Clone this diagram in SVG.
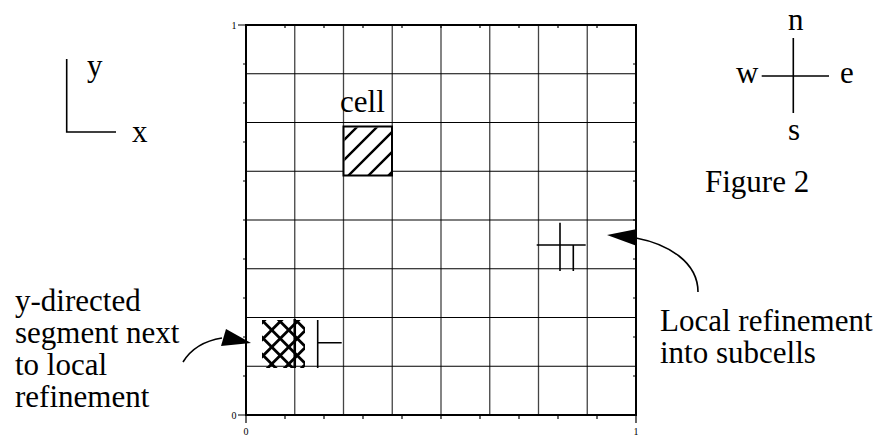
<svg xmlns="http://www.w3.org/2000/svg" width="879" height="435" viewBox="0 0 879 435">
<style>
.t{font-family:"Liberation Serif","Times New Roman",serif;font-size:31px;fill:#000}
.n{font-family:"Liberation Serif","Times New Roman",serif;font-size:10px;fill:#000}
.h{stroke:#000;stroke-width:1.2;fill:none}
.v{stroke:#444;stroke-width:1.3;fill:none}
.b{stroke:#000;stroke-width:2;fill:none}
.k{stroke:#000;stroke-width:1.2;fill:none}
.ln{stroke:#000;stroke-width:1.6;fill:none}
.hat{stroke:#000;stroke-width:2.4;fill:none}
.xh{stroke:#000;stroke-width:2.8;fill:none;stroke-linecap:round}
.con{stroke:#000;stroke-width:1.6;fill:none}
.head{fill:#000;stroke:none}
</style>
<defs>
<clipPath id="cellClip"><rect x="344.5" y="127.5" width="47" height="47.5"/></clipPath>
<clipPath id="xClip"><rect x="262" y="320" width="43" height="48"/></clipPath>
</defs>
<rect width="879" height="435" fill="#fff"/>

<g id="grid">
<path class="v" d="M294.75 25V415M343.5 25V415M392.25 25V415M441 25V415M489.75 25V415M538.5 25V415M587.25 25V415"/>
<path class="h" d="M246 73.75H636M246 122.5H636M246 171.25H636M246 220H636M246 268.75H636M246 317.5H636M246 366.25H636"/>
<rect class="b" x="246" y="25" width="390" height="390"/>
<path class="k" d="M285 25v3M324 25v3M363 25v3M402 25v3M441 25v3M480 25v3M519 25v3M558 25v3M597 25v3"/>
<path class="k" d="M285 415v4M324 415v4M363 415v4M402 415v4M441 415v4M480 415v4M519 415v4M558 415v4M597 415v4M246 415v8M636 415v8"/>
<path class="k" d="M246 64h-3M246 103h-3M246 142h-3M246 181h-3M246 220h-3M246 259h-3M246 298h-3M246 337h-3M246 376h-3M246 25h-8M246 415h-8"/>
<path class="k" d="M636 64h-3M636 103h-3M636 142h-3M636 181h-3M636 220h-3M636 259h-3M636 298h-3M636 337h-3M636 376h-3"/>
<text class="n" x="234" y="29" text-anchor="middle">1</text>
<text class="n" x="234" y="419" text-anchor="middle">0</text>
<text class="n" x="246" y="434.5" text-anchor="middle">0</text>
<text class="n" x="636" y="434.5" text-anchor="middle">1</text>
</g>

<g id="axes">
<path class="ln" d="M66.7 59V132H116"/>
<text class="t" x="87" y="76">y</text>
<text class="t" x="132" y="142">x</text>
</g>

<g id="compass">
<path class="ln" d="M793.3 38V113M761.7 76H829"/>
<text class="t" x="788" y="30">n</text>
<text class="t" x="736" y="83">w</text>
<text class="t" x="840" y="83">e</text>
<text class="t" x="788" y="140">s</text>
</g>

<g id="figure-label">
<text class="t" x="705" y="192">Figure 2</text>
</g>

<g id="cell">
<rect x="343.5" y="126.5" width="48.5" height="49" fill="#fff" stroke="#000" stroke-width="2"/>
<g clip-path="url(#cellClip)">
<path class="hat" d="M330 154L360 124M330 174L380 124M330 194L400 124M350 194L400 144M370 194L400 164"/>
</g>
<text class="t" x="340" y="112">cell</text>
</g>

<g id="y-segment">
<g clip-path="url(#xClip)">
<path class="xh" d="M250 317.7L320 247.7M250 334.7L320 264.7M250 351.7L320 281.7M250 368.7L320 298.7M250 385.7L320 315.7M250 402.7L320 332.7M250 419.7L320 349.7M250 436.7L320 366.7"/>
<path class="xh" d="M250 359.3L320 429.3M250 342.3L320 412.3M250 325.3L320 395.3M250 308.3L320 378.3M250 291.3L320 361.3M250 274.3L320 344.3M250 257.3L320 327.3"/>
</g>
<path stroke="#000" stroke-width="2.6" d="M294.75 319V368"/>
<path class="ln" d="M317.7 320V368M317.7 342.7H341.7"/>
</g>

<g id="subcells">
<path class="ln" d="M536.7 245H585.7M560 222.7V271M573.3 245V271"/>
</g>

<g id="label-left">
<text class="t" x="15" y="311">y-directed</text>
<text class="t" x="15" y="343">segment next</text>
<text class="t" x="15" y="375">to local</text>
<text class="t" x="15" y="407">refinement</text>
</g>

<g id="label-right">
<text class="t" x="660" y="331">Local refinement</text>
<text class="t" x="660" y="363">into subcells</text>
</g>

<g id="connectors">
<path class="con" d="M183 362C191 349 203 341 222 338"/>
<path class="head" d="M251 343L226 329L221 346Z"/>
<path class="con" d="M636 238C668 244 698 262 698 292"/>
<path class="head" d="M607 235L637 229L637 246Z"/>
</g>
</svg>
